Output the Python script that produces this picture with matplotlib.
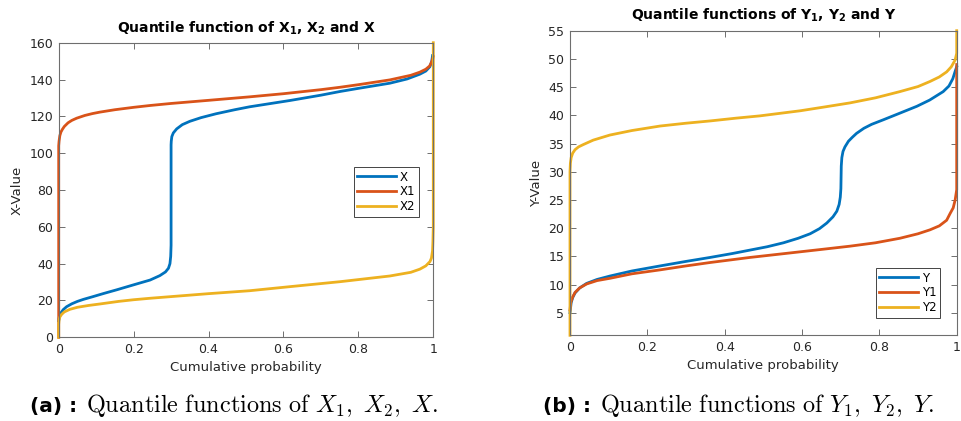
import matplotlib
matplotlib.use("Agg")
import matplotlib.pyplot as plt

plt.rcParams['font.family'] = ['DejaVu Sans']

BLUE = '#0072BD'
RED = '#D95319'
YELLOW = '#EDB120'

# ---- quantile functions of X1, X2 and the mixture X ----
p_x = [0.0, 0.002, 0.006, 0.012, 0.021, 0.035, 0.05, 0.066, 0.09, 0.12, 0.155, 0.2,
       0.244, 0.27, 0.285, 0.293, 0.297, 0.299, 0.300,
       0.300, 0.3005, 0.302, 0.306, 0.315, 0.33, 0.35, 0.38, 0.42, 0.47, 0.51, 0.617,
       0.7, 0.751, 0.8, 0.884, 0.93, 0.964, 0.98, 0.991, 0.996, 0.998]
x_val = [9.0, 11.5, 13.3, 15.0, 16.6, 18.2, 19.5, 20.6, 22.0, 23.8, 25.8, 28.5,
         31.1, 33.5, 35.5, 37.5, 40.0, 44.0, 50.0,
         104.5, 106.5, 109.0, 111.0, 113.2, 115.5, 117.3, 119.3, 121.4, 123.6, 125.2, 128.6,
         131.5, 133.5, 135.2, 138.0, 140.3, 142.9, 144.6, 147.0, 150.0, 153.0]

p_x1 = [0.0, 0.0, 0.001, 0.003, 0.006, 0.01, 0.015, 0.025, 0.035, 0.048, 0.07, 0.09,
        0.11, 0.15, 0.2, 0.244, 0.3, 0.4, 0.51, 0.6, 0.7, 0.751, 0.8, 0.884, 0.94,
        0.964, 0.98, 0.99, 0.995, 0.998, 1.0]
x1_val = [0.0, 104.0, 106.5, 109.5, 111.5, 113.0, 114.5, 116.5, 117.8, 119.0, 120.5, 121.5,
          122.3, 123.6, 124.9, 125.9, 127.0, 128.7, 130.6, 132.3, 134.5, 135.8, 137.2, 139.8, 142.3,
          144.0, 145.6, 147.3, 149.3, 151.0, 152.5]

p_x2 = [0.0, 0.0, 0.001, 0.003, 0.008, 0.015, 0.03, 0.05, 0.08, 0.11, 0.16, 0.2,
        0.244, 0.3, 0.4, 0.51, 0.617, 0.751, 0.884, 0.94, 0.964, 0.98, 0.991, 0.995,
        0.998, 0.999, 1.0, 1.0]
x2_val = [0.0, 7.0, 9.5, 11.0, 12.5, 13.8, 15.2, 16.3, 17.3, 18.1, 19.5, 20.4,
          21.2, 22.1, 23.7, 25.3, 27.5, 30.2, 33.3, 35.3, 37.0, 38.8, 41.1, 43.0,
          47.0, 52.0, 60.0, 160.0]

# ---- quantile functions of Y1, Y2 and the mixture Y ----
p_y = [0.0, 0.003, 0.007, 0.013, 0.025, 0.043, 0.07, 0.103, 0.16, 0.233, 0.3, 0.362,
       0.42, 0.465, 0.51, 0.552, 0.59, 0.621, 0.645, 0.664, 0.68, 0.69, 0.696, 0.699,
       0.7005, 0.701, 0.7015, 0.703, 0.706, 0.711, 0.72, 0.73, 0.741, 0.76, 0.78, 0.81,
       0.85, 0.897, 0.93, 0.965, 0.98, 0.99, 0.996, 1.0]
y_val = [5.0, 6.8, 7.7, 8.5, 9.4, 10.2, 10.9, 11.5, 12.4, 13.3, 14.1, 14.8,
         15.5, 16.1, 16.7, 17.4, 18.2, 19.0, 19.9, 20.9, 22.0, 23.0, 24.2, 25.5,
         27.0, 29.0, 31.0, 32.5, 33.6, 34.4, 35.4, 36.1, 36.8, 37.7, 38.4, 39.2,
         40.3, 41.6, 42.7, 44.2, 45.2, 46.5, 47.8, 48.6]

p_y1 = [0.0, 0.002, 0.007, 0.013, 0.025, 0.043, 0.07, 0.103, 0.16, 0.233, 0.3, 0.362,
        0.465, 0.53, 0.595, 0.66, 0.724, 0.79, 0.853, 0.9, 0.931, 0.955, 0.974, 0.983,
        0.991, 0.996, 1.0, 1.0]
y1_val = [5.5, 6.8, 7.8, 8.6, 9.4, 10.1, 10.7, 11.1, 11.9, 12.6, 13.3, 13.9,
          14.8, 15.3, 15.8, 16.3, 16.8, 17.4, 18.2, 19.0, 19.7, 20.4, 21.4, 22.6,
          23.6, 25.0, 26.8, 49.0]

p_y2 = [0.0, 0.0, 0.001, 0.003, 0.007, 0.013, 0.022, 0.034, 0.06, 0.103, 0.16, 0.233,
        0.3, 0.362, 0.43, 0.491, 0.595, 0.66, 0.724, 0.79, 0.853, 0.9, 0.931, 0.955,
        0.974, 0.986, 0.996, 1.0, 1.0]
y2_val = [1.0, 30.0, 31.5, 32.5, 33.3, 33.9, 34.4, 34.8, 35.6, 36.5, 37.3, 38.1,
          38.6, 39.0, 39.5, 39.9, 40.8, 41.5, 42.2, 43.1, 44.2, 45.1, 46.0, 46.8,
          47.7, 48.6, 49.8, 51.0, 55.0]

W, H = 962, 421
fig = plt.figure(figsize=(W / 100, H / 100), dpi=100)


def style_axes(ax):
    for s in ax.spines.values():
        s.set_color('#6e6e6e')
        s.set_linewidth(0.8)
    ax.tick_params(direction='in', length=4, width=0.7, color='#6e6e6e',
                   labelcolor='#262626', labelsize=9, top=True, right=True, pad=4)


def add_legend(ax, anchor):
    leg = ax.legend(loc='upper left', bbox_to_anchor=anchor, fontsize=8.5,
                    handlelength=3.3, handletextpad=0.3, labelspacing=0.15,
                    borderpad=0.3, borderaxespad=0, fancybox=False, framealpha=1)
    leg.get_frame().set_edgecolor('#444444')
    leg.get_frame().set_linewidth(0.7)


line_kw = dict(lw=2.0, clip_on=False, solid_joinstyle='round')

axL = fig.add_axes([58.7 / W, 1 - 337.3 / H, 374.6 / W, 294.6 / H])
axL.plot(p_x, x_val, color=BLUE, label='X', **line_kw)
axL.plot(p_x1, x1_val, color=RED, label='X1', **line_kw)
axL.plot(p_x2, x2_val, color=YELLOW, label='X2', **line_kw)
axL.set_xlim(0, 1)
axL.set_ylim(0, 160)
axL.set_xticks([0, 0.2, 0.4, 0.6, 0.8, 1])
axL.set_xticklabels(['0', '0.2', '0.4', '0.6', '0.8', '1'])
axL.set_yticks(range(0, 161, 20))
style_axes(axL)
axL.set_xlabel('Cumulative probability', fontsize=9.5, color='#262626', labelpad=4)
axL.set_ylabel('X-Value', fontsize=9.5, color='#262626', labelpad=4)
axL.set_title(r'Quantile function of X$_\mathbf{1}$, X$_\mathbf{2}$ and X',
              fontsize=10, fontweight='bold', pad=7)
add_legend(axL, (0.788, 0.578))

axR = fig.add_axes([570 / W, 1 - 335.3 / H, 386.7 / W, 304.6 / H])
axR.plot(p_y, y_val, color=BLUE, label='Y', **line_kw)
axR.plot(p_y1, y1_val, color=RED, label='Y1', **line_kw)
axR.plot(p_y2, y2_val, color=YELLOW, label='Y2', **line_kw)
axR.set_xlim(0, 1)
axR.set_ylim(1, 55)
axR.set_xticks([0, 0.2, 0.4, 0.6, 0.8, 1])
axR.set_xticklabels(['0', '0.2', '0.4', '0.6', '0.8', '1'])
axR.set_yticks(range(5, 56, 5))
style_axes(axR)
axR.set_xlabel('Cumulative probability', fontsize=9.5, color='#262626', labelpad=4)
axR.set_ylabel('Y-Value', fontsize=9.5, color='#262626', labelpad=4)
axR.set_title(r'Quantile functions of Y$_\mathbf{1}$, Y$_\mathbf{2}$ and Y',
              fontsize=10, fontweight='bold', pad=8)
add_legend(axR, (0.791, 0.221))

# ---- sub-figure captions ----
fig.canvas.draw()
renderer = fig.canvas.get_renderer()


def caption(x_left, tag, body):
    y = 1 - 412 / H
    t = fig.text(x_left / W, y, tag, fontsize=14.5, fontweight='bold',
                 va='baseline', ha='left', color='black')
    ext = t.get_window_extent(renderer)
    fig.text((ext.x1 + 9) / W, y, body, fontsize=17.5, math_fontfamily='cm',
             va='baseline', ha='left', color='black')


caption(30, '(a) :', r'$\mathrm{Quantile\ functions\ of\ }X_1,\ X_2,\ X.$')
caption(543, '(b) :', r'$\mathrm{Quantile\ functions\ of\ }Y_1,\ Y_2,\ Y.$')

fig.savefig('out.png', dpi=100)
